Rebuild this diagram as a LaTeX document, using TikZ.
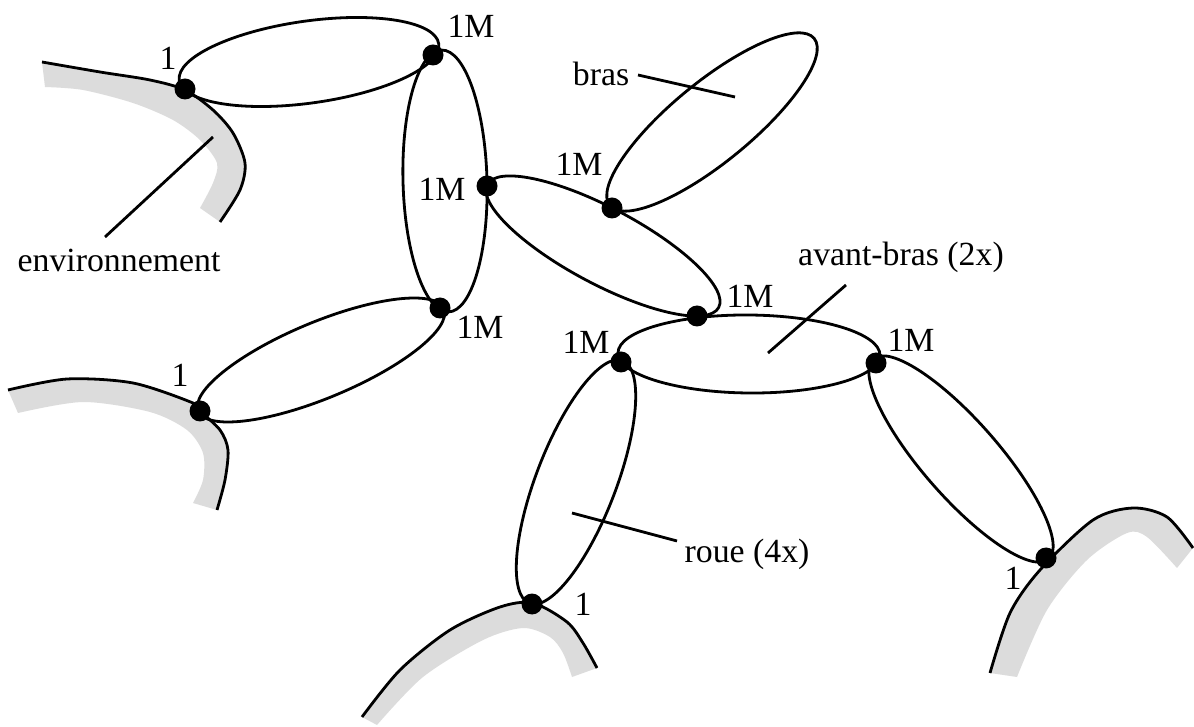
\documentclass[tikz,border=0pt]{standalone}
\usepackage{fontspec}
\setmainfont{Liberation Serif}
\usetikzlibrary{shapes.geometric}
\definecolor{envgray}{RGB}{220,220,220}
\tikzset{
  lbl/.style={font=\fontsize{33.8}{40}\selectfont, inner sep=0pt},
  jdot/.style={circle, fill=black, draw=none, minimum size=21pt, inner sep=0pt},
  hedge/.style={ellipse, draw=black, line width=2.8pt, inner sep=0pt, minimum width=262pt},
  envline/.style={line width=2.8pt, line cap=butt},
  leader/.style={line width=2.8pt},
}
\begin{document}
\begin{tikzpicture}[x=1pt,y=1pt]
\useasboundingbox (0,0) rectangle (1194,726);
\fill[white] (0,0) rectangle (1194,726);

% environment bands
\fill[envgray] plot[smooth] coordinates {(42,664) (100,654) (150,646) (185,636) (213,616) (233,593) (245,563) (240,536) (220,504)}
  -- plot[smooth] coordinates {(200,518) (213,543) (217,563) (200,586) (173,606) (133,623) (83,636) (45,639)} -- cycle;
\draw[envline] plot[smooth] coordinates {(42,664) (100,654) (150,646) (185,636) (213,616) (233,593) (245,563) (240,536) (220,504)};

\fill[envgray] plot[smooth] coordinates {(8,336) (67,347) (133,343) (193,323) (200,315) (220,296) (228,276) (225,246) (217,216)}
  -- plot[smooth] coordinates {(193,223) (203,246) (203,273) (187,296) (150,314) (83,324) (18,313)} -- cycle;
\draw[envline] plot[smooth] coordinates {(8,336) (67,347) (133,343) (193,323) (200,315) (220,296) (228,276) (225,246) (217,216)};

\fill[envgray] plot[smooth] coordinates {(362,9) (400,56) (450,96) (500,119) (533,123) (567,104) (583,83) (597,58)}
  -- plot[smooth] coordinates {(572,49) (563,73) (550,89) (523,98) (483,86) (423,49) (377,1)} -- cycle;
\draw[envline] plot[smooth] coordinates {(362,9) (400,56) (450,96) (500,119) (533,123) (567,104) (583,83) (597,58)};

\fill[envgray] plot[smooth] coordinates {(990,53) (1010,113) (1040,156) (1093,206) (1133,218) (1167,209) (1193,178)}
  -- plot[smooth] coordinates {(1177,158) (1147,189) (1127,193) (1087,166) (1047,116) (1017,49)} -- cycle;
\draw[envline] plot[smooth] coordinates {(990,53) (1010,113) (1040,156) (1093,206) (1133,218) (1167,209) (1193,178)};

% hyperedges (ellipses)
\node[hedge, minimum height=82pt, rotate=8] (e1) at (309,664) {};
\node[hedge, minimum height=84pt, rotate=91.5] (e2) at (445,545) {};
\node[hedge, minimum height=76pt, rotate=-28] (e3) at (603,480) {};
\node[hedge, minimum width=264pt, minimum height=80pt, rotate=39.3] (e4) at (712,604) {};
\node[hedge, minimum height=78pt, rotate=-0.5] (e5) at (749,372) {};
\node[hedge, minimum width=260pt, minimum height=80pt, rotate=69] (e6) at (576,244) {};
\node[hedge, minimum width=266pt, minimum height=76pt, rotate=-48.8] (e7) at (961,267) {};
\node[hedge, minimum width=266pt, minimum height=76pt, rotate=22.6] (e8) at (321,366) {};

% joints
\node[jdot] (d1) at (185,637) {};
\node[jdot] (d2) at (433,671) {};
\node[jdot] (d3) at (487,540) {};
\node[jdot] (d4) at (440,418) {};
\node[jdot] (d5) at (200,315) {};
\node[jdot] (d6) at (612,518) {};
\node[jdot] (d7) at (697,410) {};
\node[jdot] (d8) at (621,364) {};
\node[jdot] (d9) at (876,363) {};
\node[jdot] (d10) at (532,122) {};
\node[jdot] (d11) at (1046,168) {};

% multiplicity labels
\node[lbl] (m1) at (168,668) {1};
\node[lbl] (m2) at (471,700) {1M};
\node[lbl] (m3) at (442,537) {1M};
\node[lbl] (m4) at (480,399) {1M};
\node[lbl] (m5) at (180,351) {1};
\node[lbl] (m6) at (579,562) {1M};
\node[lbl] (m7) at (750,430) {1M};
\node[lbl] (m8) at (586,384) {1M};
\node[lbl] (m9) at (911,386) {1M};
\node[lbl] (m10) at (583,122) {1};
\node[lbl] (m11) at (1013,148) {1};

% name labels with leaders
\node[lbl, anchor=base] (tenv) at (119,454) {environnement};
\node[lbl, anchor=base] (tbras) at (601,640) {bras};
\node[lbl, anchor=base] (tavant) at (901,460) {avant-bras (2x)};
\node[lbl, anchor=base] (troue) at (747,164) {roue (4x)};

\coordinate (a1) at (105,489); \coordinate (b1) at (213,589);
\coordinate (a2) at (638,651); \coordinate (b2) at (735,629);
\coordinate (a3) at (846,441); \coordinate (b3) at (768,373);
\coordinate (a4) at (677,185); \coordinate (b4) at (572,213);
\draw[leader] (a1) -- (b1);
\draw[leader] (a2) -- (b2);
\draw[leader] (a3) -- (b3);
\draw[leader] (a4) -- (b4);
\end{tikzpicture}
\end{document}
